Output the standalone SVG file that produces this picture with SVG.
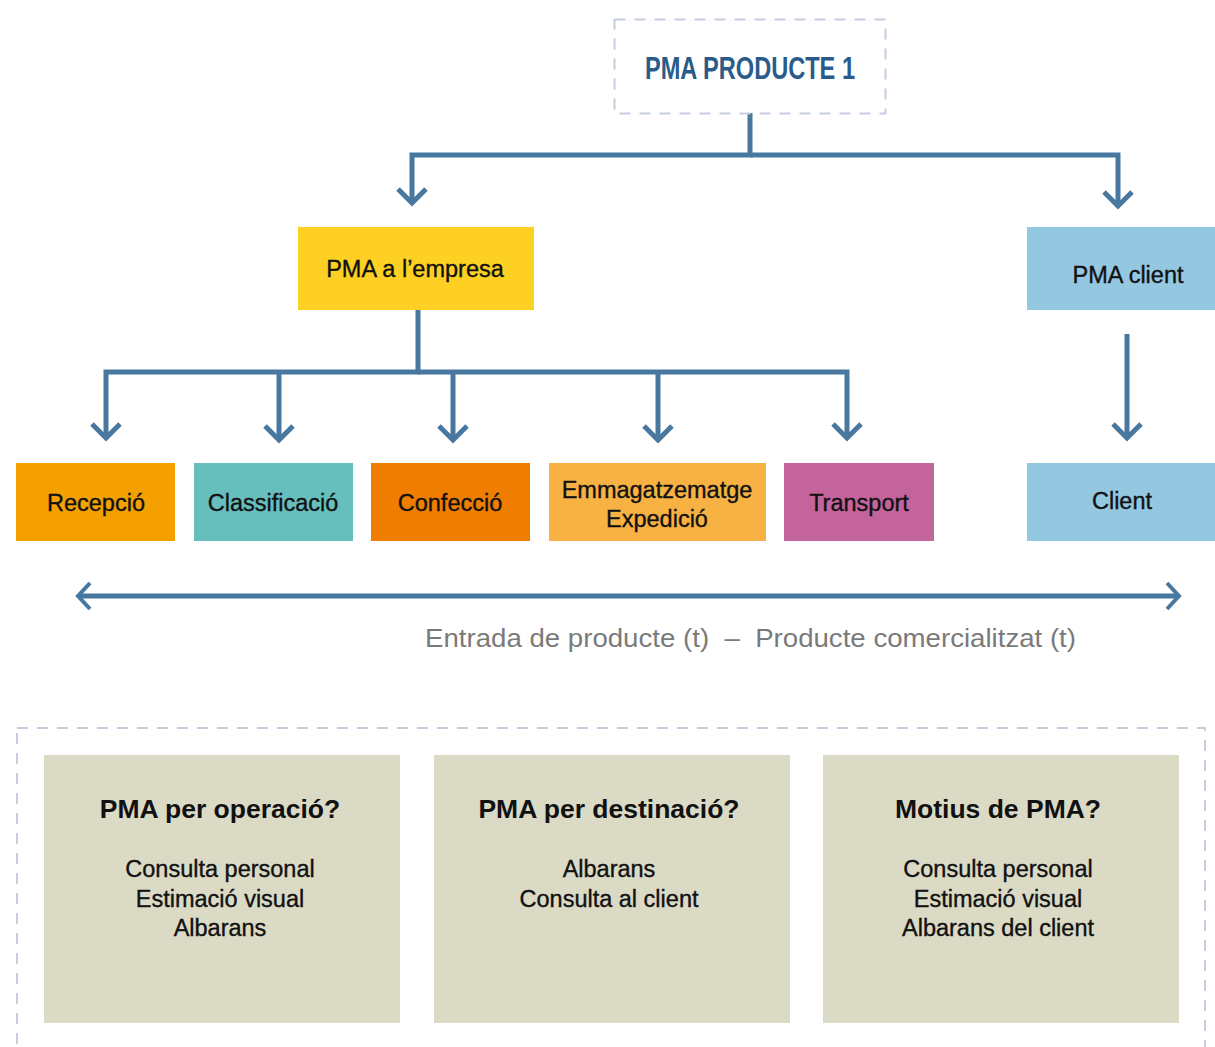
<svg xmlns="http://www.w3.org/2000/svg" width="1215" height="1047" viewBox="0 0 1215 1047">
<style>
.dash{fill:none;stroke:#c6cde0;stroke-width:2;stroke-dasharray:11 9}
.ln{fill:none;stroke:#48789f;stroke-width:5}
.lbl{font-family:"Liberation Sans",Arial,sans-serif;font-size:23.5px;fill:#111;stroke:#111;stroke-width:0.35;text-anchor:middle}
.ttl{font-family:"Liberation Sans",Arial,sans-serif;font-size:26.5px;font-weight:bold;fill:#111;text-anchor:middle}
.q{fill:#dbdac5}
</style>
<defs>
<marker id="ah" markerUnits="userSpaceOnUse" markerWidth="40" markerHeight="40" viewBox="-20 -20 40 40" refX="0" refY="0" orient="auto" overflow="visible">
<path d="M-14,-14 L0,0 L-14,14" fill="none" stroke="#48789f" stroke-width="5"/>
</marker>
<marker id="ah2" markerUnits="userSpaceOnUse" markerWidth="40" markerHeight="40" viewBox="-20 -20 40 40" refX="0" refY="0" orient="auto-start-reverse" overflow="visible">
<path d="M-12,-13 L0,0 L-12,13" fill="none" stroke="#48789f" stroke-width="4"/>
</marker>
</defs>
<rect width="1215" height="1047" fill="#fff"/>

<g id="connectors">
<polyline class="ln" points="750,113 750,155 412,155 412,203" marker-end="url(#ah)"/>
<polyline class="ln" points="750,155 1118,155 1118,206" marker-end="url(#ah)"/>
<polyline class="ln" points="418,310 418,372 106,372 106,438" marker-end="url(#ah)"/>
<polyline class="ln" points="279,372 279,440" marker-end="url(#ah)"/>
<polyline class="ln" points="453,372 453,440" marker-end="url(#ah)"/>
<polyline class="ln" points="418,372 847,372 847,438" marker-end="url(#ah)"/>
<polyline class="ln" points="658,372 658,440" marker-end="url(#ah)"/>
<line class="ln" x1="1127" y1="334" x2="1127" y2="438" marker-end="url(#ah)"/>
<line class="ln" x1="78" y1="596" x2="1179" y2="596" stroke-width="4" marker-start="url(#ah2)" marker-end="url(#ah2)"/>
</g>

<g id="pma-producte">
<rect class="dash" x="614.5" y="19.5" width="271" height="94"/>
<text x="750" y="79" font-family="'Liberation Sans',Arial,sans-serif" font-size="31" font-weight="bold" fill="#2a5b8a" text-anchor="middle" textLength="210" lengthAdjust="spacingAndGlyphs">PMA PRODUCTE 1</text>
</g>

<g id="pma-empresa">
<rect x="298" y="227" width="236" height="83" fill="#fdd023"/>
<text class="lbl" x="415" y="277">PMA a l’empresa</text>
</g>

<g id="pma-client">
<rect x="1027" y="227" width="188" height="83" fill="#93c8e0"/>
<text class="lbl" x="1128" y="283">PMA client</text>
</g>

<g id="recepcio">
<rect x="16" y="463" width="159" height="78" fill="#f4a000"/>
<text class="lbl" x="96" y="511">Recepció</text>
</g>
<g id="classificacio">
<rect x="194" y="463" width="159" height="78" fill="#66bfbd"/>
<text class="lbl" x="273" y="511">Classificació</text>
</g>
<g id="confeccio">
<rect x="371" y="463" width="159" height="78" fill="#ef7d00"/>
<text class="lbl" x="450" y="511">Confecció</text>
</g>
<g id="emmagatzematge">
<rect x="549" y="463" width="217" height="78" fill="#f8b143"/>
<text class="lbl" x="657" y="498">Emmagatzematge</text>
<text class="lbl" x="657" y="527">Expedició</text>
</g>
<g id="transport">
<rect x="784" y="463" width="150" height="78" fill="#c4649c"/>
<text class="lbl" x="859" y="511">Transport</text>
</g>
<g id="client">
<rect x="1027" y="463" width="188" height="78" fill="#93c8e0"/>
<text class="lbl" x="1122" y="509">Client</text>
</g>

<g id="timeline-label">
<text x="425" y="647" font-family="'Liberation Sans',Arial,sans-serif" font-size="26" fill="#7a7a7a" style="white-space:pre" textLength="651" lengthAdjust="spacingAndGlyphs">Entrada de producte (t)  –  Producte comercialitzat (t)</text>
</g>

<g id="questions">
<rect class="dash" x="17" y="728" width="1188" height="340"/>
<g id="q-operacio">
<rect class="q" x="44" y="755" width="356" height="268"/>
<text class="ttl" x="220" y="818">PMA per operació?</text>
<text class="lbl" x="220" y="877">Consulta personal</text>
<text class="lbl" x="220" y="907">Estimació visual</text>
<text class="lbl" x="220" y="936">Albarans</text>
</g>
<g id="q-destinacio">
<rect class="q" x="434" y="755" width="356" height="268"/>
<text class="ttl" x="609" y="818">PMA per destinació?</text>
<text class="lbl" x="609" y="877">Albarans</text>
<text class="lbl" x="609" y="907">Consulta al client</text>
</g>
<g id="q-motius">
<rect class="q" x="823" y="755" width="356" height="268"/>
<text class="ttl" x="998" y="818">Motius de PMA?</text>
<text class="lbl" x="998" y="877">Consulta personal</text>
<text class="lbl" x="998" y="907">Estimació visual</text>
<text class="lbl" x="998" y="936">Albarans del client</text>
</g>
</g>
</svg>
